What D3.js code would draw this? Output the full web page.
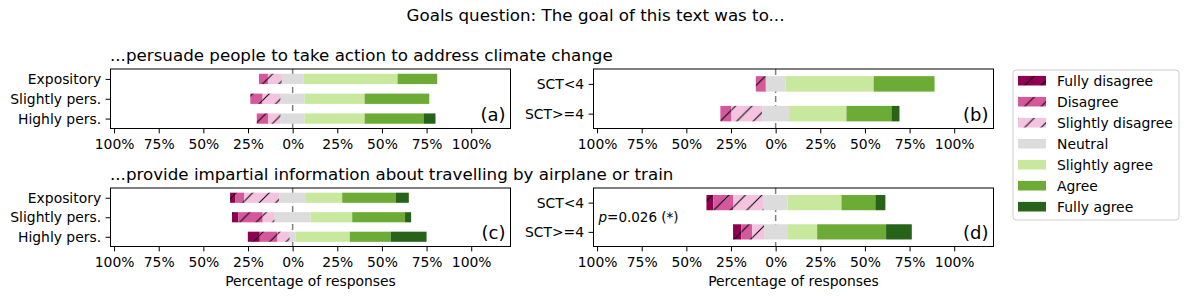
<!DOCTYPE html>
<html>
<head>
<meta charset="utf-8">
<script src="https://cdn.jsdelivr.net/npm/d3@7"></script>
<style>
  body { margin: 0; background: #fff; }
  svg text { font-family: 'DejaVu Sans', sans-serif; fill: #000; }
</style>
</head>
<body>
<script>
'use strict'

// answer levels and the two groupings
var levels = ['Fully disagree', 'Disagree', 'Slightly disagree', 'Neutral', 'Slightly agree', 'Agree', 'Fully agree']
var textTypes = ['Expository', 'Slightly pers.', 'Highly pers.']
var sctGroups = ['SCT<4', 'SCT>=4']
var xTicks = [-100, -75, -50, -25, 0, 25, 50, 75, 100]

// percentage of responses per level, one row per group
var persuadeByText = [
  [0, 5.0, 7.8, 12.1, 52.7, 22.2, 0],
  [0, 6.9, 10.1, 13.4, 33.6, 36.2, 0],
  [0, 6.5, 6.9, 13.4, 33.6, 33.0, 6.7]
]
var persuadeBySct = [
  [0, 5.6, 0, 11.0, 49.4, 34.1, 0],
  [0, 6.2, 17.2, 15.1, 32.1, 25.2, 4.5]
]
var impartialByText = [
  [2.8, 5.2, 19.6, 14.9, 20.3, 29.9, 7.4],
  [3.4, 13.8, 6.7, 20.1, 23.3, 29.6, 3.4],
  [6.7, 9.9, 6.9, 3.2, 30.4, 22.9, 20.1]
]
var impartialBySct = [
  [3.9, 11.2, 17.0, 13.3, 30.2, 19.0, 5.6],
  [4.7, 6.0, 6.7, 12.9, 16.8, 38.6, 14.4]
]

var colors = ['#8e0152', '#d5589d', '#f4c3e0', '#dcdcdc', '#c8e89e', '#6cac36', '#276419']
var hatched = [true, true, true, false, false, false, false]

var svg = d3.select('body').append('svg')
  .attr('width', 1191)
  .attr('height', 299)

var defs = svg.append('defs')
var hs = 16.5
levels.forEach(function (l, i) {
  if (!hatched[i]) return
  var p = defs.append('pattern')
    .attr('id', 'hatch' + i)
    .attr('patternUnits', 'userSpaceOnUse')
    .attr('width', hs)
    .attr('height', hs)
  p.append('rect').attr('width', hs).attr('height', hs).attr('fill', colors[i])
  p.append('path')
    .attr('d', 'M0,' + hs + 'L' + hs + ',0M' + (-hs / 2) + ',' + (hs / 2) + 'L' + (hs / 2) + ',' + (-hs / 2) +
      'M' + (hs / 2) + ',' + (hs * 1.5) + 'L' + (hs * 1.5) + ',' + (hs / 2))
    .attr('stroke', '#000')
    .attr('stroke-width', 1)
})

function fillFor (i) {
  return hatched[i] ? 'url(#hatch' + i + ')' : colors[i]
}

svg.append('text')
  .attr('x', 595.5)
  .attr('y', 21)
  .attr('text-anchor', 'middle')
  .style('font-size', '16.7px')
  .text('Goals question: The goal of this text was to...')

svg.append('text')
  .attr('x', 110)
  .attr('y', 61)
  .style('font-size', '16.7px')
  .text('...persuade people to take action to address climate change')

svg.append('text')
  .attr('x', 110)
  .attr('y', 180)
  .style('font-size', '16.7px')
  .text('...provide impartial information about travelling by airplane or train')

var panels = [
  { data: persuadeByText, rows: textTypes, left: 110.5, top: 69, bottom: 128.5, letter: '(a)' },
  { data: persuadeBySct, rows: sctGroups, left: 593.5, top: 69, bottom: 128.5, letter: '(b)' },
  { data: impartialByText, rows: textTypes, left: 110.5, top: 188, bottom: 246.5, letter: '(c)', xlabel: true },
  { data: impartialBySct, rows: sctGroups, left: 593.5, top: 188, bottom: 246.5, letter: '(d)', xlabel: true, note: true }
]

function drawPanel (p) {
  var x = d3.scaleLinear().domain([-102, 122]).range([p.left, p.left + 400])
  var y = d3.scaleLinear().domain([-0.5, p.rows.length - 0.5]).range([p.top, p.bottom])
  var g = svg.append('g')

  g.append('line')
    .attr('x1', x(0)).attr('x2', x(0))
    .attr('y1', p.top).attr('y2', p.bottom)
    .attr('stroke', '#808080')
    .attr('stroke-width', 1.5)
    .attr('stroke-dasharray', '6,3')

  var rows = g.selectAll('g.row')
    .data(p.data)
    .enter().append('g')
    .attr('class', 'row')

  rows.each(function (vals, r) {
    var start = -(vals[0] + vals[1] + vals[2] + vals[3] / 2)
    var segs = vals.map(function (v, i) {
      var s = { v: v, i: i, x0: start }
      start += v
      return s
    }).filter(function (s) { return s.v > 0 })
    d3.select(this).selectAll('rect')
      .data(segs)
      .enter().append('rect')
      .attr('x', function (s) { return x(s.x0) })
      .attr('width', function (s) { return x(s.x0 + s.v) - x(s.x0) })
      .attr('y', y(r - 0.26))
      .attr('height', y(r + 0.26) - y(r - 0.26))
      .attr('fill', function (s) { return fillFor(s.i) })
  })

  g.append('rect')
    .attr('x', p.left).attr('y', p.top)
    .attr('width', 400).attr('height', p.bottom - p.top)
    .attr('fill', 'none')
    .attr('stroke', '#000')
    .attr('stroke-width', 1)

  var xAxis = g.append('g')
    .attr('transform', 'translate(0,' + p.bottom + ')')
    .call(d3.axisBottom(x).tickValues(xTicks).tickSize(4.9).tickPadding(5.5)
      .tickFormat(function (d) { return Math.abs(d) + '%' }))
  xAxis.select('.domain').remove()
  xAxis.selectAll('text').style('font-size', '13.9px').attr('fill', '#000')

  var yAxis = g.append('g')
    .attr('transform', 'translate(' + p.left + ',0)')
    .call(d3.axisLeft(y).tickValues(p.rows.map(function (d, i) { return i }))
      .tickSize(4.9).tickPadding(4.5)
      .tickFormat(function (d) { return p.rows[d] }))
  yAxis.select('.domain').remove()
  yAxis.selectAll('text').style('font-size', '13.9px').attr('fill', '#000')

  g.append('text')
    .attr('x', p.left + 395)
    .attr('y', p.bottom - 7.5)
    .attr('text-anchor', 'end')
    .style('font-size', '18px')
    .text(p.letter)

  if (p.xlabel) {
    g.append('text')
      .attr('x', p.left + 200)
      .attr('y', p.bottom + 39)
      .attr('text-anchor', 'middle')
      .style('font-size', '13.9px')
      .text('Percentage of responses')
  }

  if (p.note) {
    var t = g.append('text')
      .attr('x', p.left + 5)
      .attr('y', (p.top + p.bottom) / 2 + 4.5)
      .style('font-size', '13.5px')
    t.append('tspan').style('font-style', 'italic').text('p')
    t.append('tspan').text('=0.026 (*)')
  }
}

panels.forEach(drawPanel)

var legend = svg.append('g').attr('transform', 'translate(1013,70)')
legend.append('rect')
  .attr('width', 166).attr('height', 150)
  .attr('rx', 3)
  .attr('fill', '#fff')
  .attr('stroke', '#cccccc')
  .attr('stroke-width', 1)

var items = legend.selectAll('g.item')
  .data(levels)
  .enter().append('g')
  .attr('class', 'item')
  .attr('transform', function (d, i) { return 'translate(0,' + (10.7 + i * 21) + ')' })
items.append('rect')
  .attr('x', 5).attr('y', -4.8)
  .attr('width', 28).attr('height', 9.6)
  .attr('fill', function (d, i) { return fillFor(i) })
items.append('text')
  .attr('x', 44).attr('y', 4.9)
  .style('font-size', '13.9px')
  .text(function (d) { return d })
</script>
</body>
</html>
